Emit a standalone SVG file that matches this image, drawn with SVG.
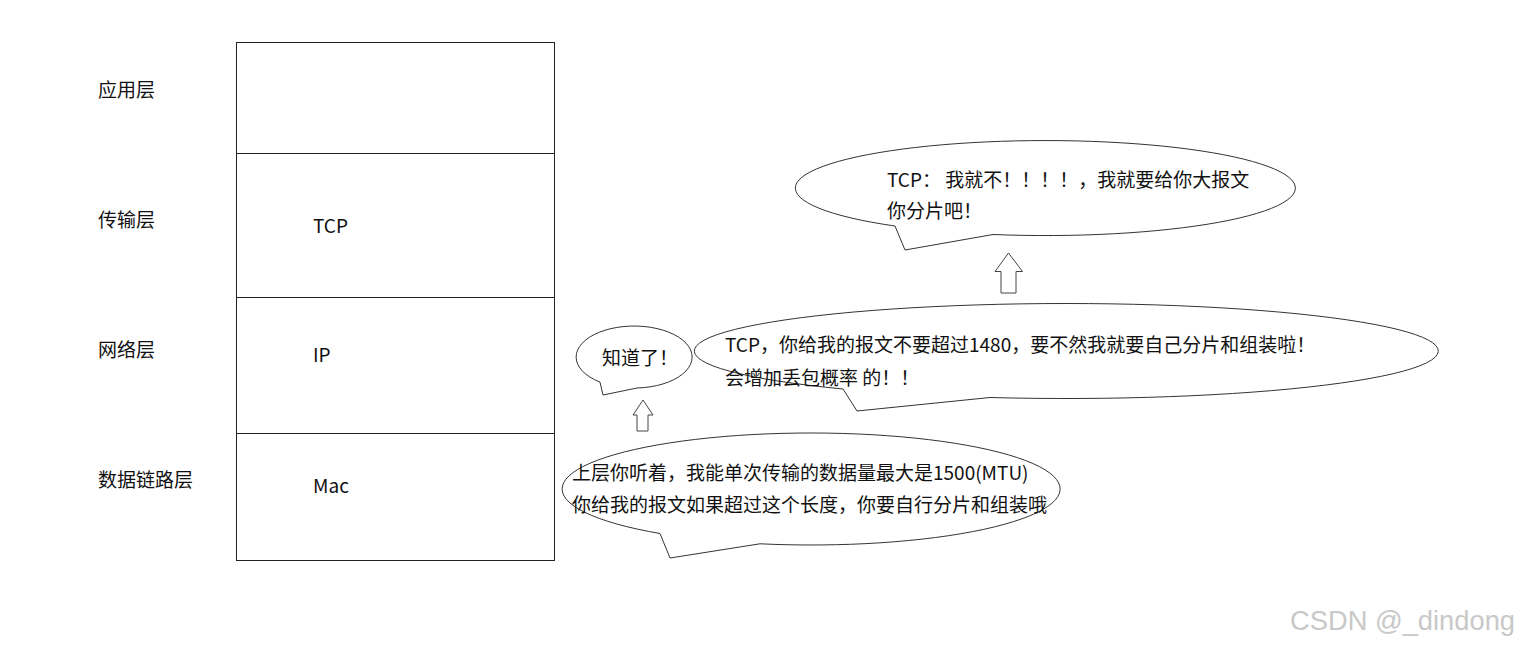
<svg xmlns="http://www.w3.org/2000/svg" width="1520" height="646" viewBox="0 0 1520 646">
<style>
text{font-family:"Microsoft YaHei","Noto Sans CJK SC","Noto Sans",sans-serif;font-size:19px;fill:#111}
.box{fill:none;stroke:#222;stroke-width:1}
.bubble{fill:#fff;stroke:#333;stroke-width:1}
.arrow{fill:#fff;stroke:#444;stroke-width:1}
.wm{font-family:"Liberation Sans","Noto Sans",sans-serif;font-size:27px;fill:#c8c8c8}
</style>
<rect width="1520" height="646" fill="#fff"/>
<g id="layer-labels">
<text x="98" y="97">应用层</text>
<text x="98" y="227">传输层</text>
<text x="98" y="357">网络层</text>
<text x="98" y="487">数据链路层</text>
</g>
<g id="stack">
<rect class="box" x="236.5" y="42.5" width="318" height="518"/>
<line class="box" x1="236.5" y1="153.5" x2="554.5" y2="153.5"/>
<line class="box" x1="236.5" y1="297.5" x2="554.5" y2="297.5"/>
<line class="box" x1="236.5" y1="433.5" x2="554.5" y2="433.5"/>
<text x="313" y="233">TCP</text>
<text x="313" y="362">IP</text>
<text x="313" y="493">Mac</text>
</g>
<g id="bubble-top">
<path class="bubble" d="M993,234.5 A250 47.5 0 1 0 895,226 L905,250 Z"/>
<text x="887" y="187">TCP： 我就不！！！！，我就要给你大报文</text>
<text x="887" y="218">你分片吧！</text>
</g>
<g id="bubble-ok">
<path class="bubble" d="M637,388 A58 31 0 1 0 600,382.1 L603,395 Z"/>
<text x="602" y="365">知道了！</text>
</g>
<g id="bubble-mid">
<path class="bubble" d="M990,397.5 A372 47.5 0 1 0 843,389 L857,411 Z"/>
<text x="725" y="352">TCP，你给我的报文不要超过1480，要不然我就要自己分片和组装啦！</text>
<text x="725" y="385">会增加丢包概率 的！！</text>
</g>
<g id="bubble-bottom">
<path class="bubble" d="M760,543.8 A249 56 0 1 0 660,533.5 L670,558 Z"/>
<text x="572" y="480">上层你听着，我能单次传输的数据量最大是1500(MTU)</text>
<text x="572" y="512">你给我的报文如果超过这个长度，你要自行分片和组装哦</text>
</g>
<g id="connectors">
<path class="arrow" d="M643,400 L653,415 L648,415 L648,431 L637,431 L637,415 L633,415 Z"/>
<path class="arrow" d="M1008.5,253 L1022.5,271.5 L1016,271.5 L1016,293 L1001,293 L1001,271.5 L995,271.5 Z"/>
</g>
<text class="wm" x="1290" y="630" textLength="225" lengthAdjust="spacingAndGlyphs">CSDN @_dindong</text>
</svg>
